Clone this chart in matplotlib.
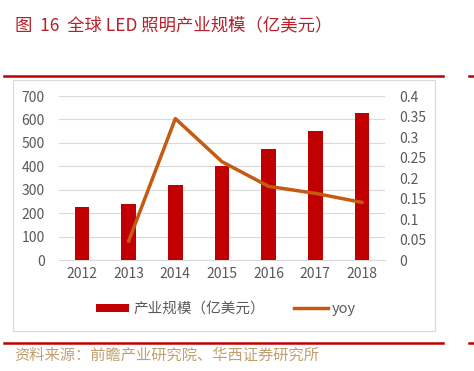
import matplotlib.pyplot as plt
from matplotlib.patches import Rectangle
from matplotlib.lines import Line2D

plt.rcParams['font.family'] = ['Noto Sans CJK SC', 'DejaVu Sans']

years = ['2012', '2013', '2014', '2015', '2016', '2017', '2018']
scale = [228, 239, 322, 400, 473, 551, 629]
yoy_years = ['2013', '2014', '2015', '2016', '2017', '2018']
yoy = [0.047, 0.345, 0.24, 0.18, 0.163, 0.141]

W, H = 474, 371
fig = plt.figure(figsize=(W / 100, H / 100), dpi=100)

def fx(px):
    return px / W

def fy(py):
    return 1 - py / H

# 外框和红线
fig.patches.append(Rectangle((fx(13), fy(331)), fx(435) - fx(13), fy(80) - fy(331),
                             transform=fig.transFigure, fill=False, edgecolor='#d9d9d9', lw=0.8))
for yy in [76, 343]:
    fig.add_artist(Line2D([fx(4), fx(443)], [fy(yy), fy(yy)], color='#c00000', lw=1.8))
    fig.add_artist(Line2D([fx(469), fx(474)], [fy(yy), fy(yy)], color='#c00000', lw=1.8))

fig.text(fx(15), fy(25), '图  16  全球 LED 照明产业规模（亿美元）', color='#b8202a',
         fontsize=12.5, va='center', ha='left')
fig.text(fx(14), fy(355), '资料来源：前瞻产业研究院、华西证券研究所', color='#c0a070',
         fontsize=11, va='center', ha='left')

ax = fig.add_axes([fx(58.7), fy(260.3), fx(385.3) - fx(58.7), fy(96) - fy(260.3)])
x = list(range(len(years)))
ax.bar(x, scale, width=0.32, color='#c00000', zorder=3, label='产业规模（亿美元）')
ax.set_ylim(0, 700)
ax.set_yticks(range(0, 701, 100))
ax.set_xlim(-0.5, len(years) - 0.5)
ax.set_xticks(x)
ax.set_xticklabels(years)
ax.grid(axis='y', color='#d9d9d9', lw=0.8, zorder=0)
for s in ax.spines.values():
    s.set_visible(False)
ax.spines['bottom'].set_visible(True)
ax.spines['bottom'].set_color('#d9d9d9')
ax.tick_params(length=0, labelsize=10, labelcolor='#595959')
ax.tick_params(axis='x', pad=5)
ax.tick_params(axis='y', pad=10)

ax2 = ax.twinx()
xi = [years.index(y) for y in yoy_years]
ax2.plot(xi, yoy, color='#c55a11', lw=2.5, zorder=4, label='yoy')
ax2.set_ylim(0, 0.4)
ax2.set_yticks([0, 0.05, 0.1, 0.15, 0.2, 0.25, 0.3, 0.35, 0.4])
ax2.set_yticklabels(['0', '0.05', '0.1', '0.15', '0.2', '0.25', '0.3', '0.35', '0.4'])
for s in ax2.spines.values():
    s.set_visible(False)
ax2.tick_params(length=0, labelsize=10, labelcolor='#595959', pad=10)

h1, l1 = ax.get_legend_handles_labels()
h2, l2 = ax2.get_legend_handles_labels()
fig.legend(h1 + h2, l1 + l2, loc='center', bbox_to_anchor=(fx(226), fy(309)), ncol=2,
           frameon=False, fontsize=10.5, labelcolor='#595959', handlelength=2.3,
           handleheight=0.5, columnspacing=2.0, handletextpad=0.3)

fig.savefig('out.png', dpi=100)
